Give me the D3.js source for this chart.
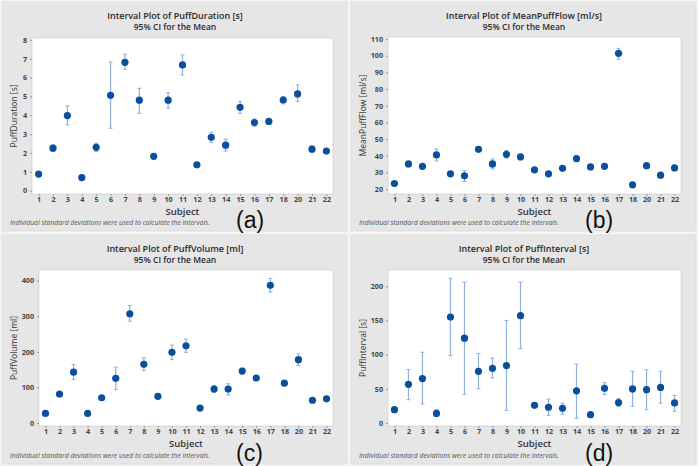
<!DOCTYPE html>
<html>
<head>
<meta charset="utf-8">
<script src="https://cdn.jsdelivr.net/npm/d3@7"></script>
<style>
  body { margin: 0; background: #f4f4f4; }
  svg { display: block; }
  text { font-family: "Open Sans", "DejaVu Sans", sans-serif; }
</style>
</head>
<body>
<svg id="chart" width="698" height="466"></svg>
<script>
// subjects (no 19 in the study)
var subjects = ['1','2','3','4','5','6','7','8','9','10','11','12','13','14','15','16','17','18','20','21','22'];

// (a) puff duration [s]
var durMean = [0.88, 2.25, 3.98, 0.69, 2.30, 5.06, 6.81, 4.80, 1.82, 4.80, 6.67, 1.37, 2.83, 2.41, 4.42, 3.61, 3.67, 4.81, 5.13, 2.20, 2.10];
var durLo   = [0.82, 2.10, 3.49, 0.60, 2.07, 3.31, 6.44, 4.10, 1.76, 4.37, 6.14, 1.31, 2.55, 2.10, 4.10, 3.43, 3.54, 4.60, 4.73, 2.07, 2.04];
var durHi   = [0.94, 2.42, 4.50, 0.78, 2.51, 6.83, 7.24, 5.43, 1.88, 5.20, 7.20, 1.43, 3.10, 2.73, 4.73, 3.80, 3.79, 4.99, 5.61, 2.37, 2.16];

// (b) mean puff flow [ml/s]
var flowMean = [23.4, 35.1, 33.7, 40.5, 29.2, 28.0, 43.9, 35.1, 40.9, 39.3, 31.6, 29.2, 32.5, 38.3, 33.3, 33.7, 101.4, 22.6, 34.1, 28.4, 32.7];
var flowLo   = [22.6, 34.0, 32.7, 36.9, 28.3, 24.6, 42.8, 32.1, 38.7, 37.7, 30.8, 28.5, 31.6, 36.7, 32.5, 32.9, 97.9, 21.9, 33.0, 27.5, 31.9];
var flowHi   = [24.2, 36.2, 34.7, 44.1, 30.1, 31.2, 45.0, 38.1, 43.3, 40.7, 32.4, 29.9, 33.4, 39.7, 34.1, 34.5, 104.4, 23.3, 35.2, 29.3, 33.5];

// (c) puff volume [ml]
var volMean = [27, 81.5, 143, 27, 71, 125.5, 307, 165, 75, 198.6, 217, 42, 95.5, 95.5, 146, 126.5, 387, 112, 178, 64, 68];
var volLo   = [24, 77, 122, 24, 66, 94, 286, 147, 71, 178, 198.6, 39, 86, 79, 139, 121, 368, 107, 161, 60, 64];
var volHi   = [30, 86, 164, 30, 76, 157, 330, 183, 79, 219, 236, 45, 105, 110.5, 154, 132, 406.5, 117, 194, 68, 72];

// (d) puff interval [s]
var intMean = [19.5, 56.6, 65, 14, 155, 124, 75.6, 80, 84, 157, 25.9, 23, 21.5, 47, 12.2, 50.7, 29.8, 49.8, 48.8, 52, 29.3];
var intLo   = [16, 34, 27.8, 9.8, 98.5, 41.5, 50, 66, 18.5, 108.8, 23, 11.2, 13, 7, 11, 41.5, 24.4, 24.4, 19.5, 29, 17];
var intHi   = [22.4, 78.5, 103.4, 19.5, 211.7, 206, 101.5, 95, 150, 206, 29, 35, 29, 86, 13.4, 59.5, 35.6, 75.6, 78, 75.6, 40.5];

var yTicksA = [0, 1, 2, 3, 4, 5, 6, 7, 8];
var yTicksB = [20, 30, 40, 50, 60, 70, 80, 90, 100, 110];
var yTicksC = [0, 100, 200, 300, 400];
var yTicksD = [0, 50, 100, 150, 200];

var footnote = 'Individual standard deviations were used to calculate the intervals.';

var svg = d3.select('#chart');

var rows = function(mean, lo, hi) {
    return subjects.map(function(s, i) {
        return { subject: s, mean: mean[i], lo: lo[i], hi: hi[i] };
    });
};

var panels = [
    { x: 2, y: 2, title: 'Interval Plot of PuffDuration [s]', ylab: 'PuffDuration [s]', tag: '(a)',
      plot: [32, 38, 333, 194], ydom: [-0.18, 8.1], ticks: yTicksA, data: rows(durMean, durLo, durHi) },
    { x: 351, y: 2, title: 'Interval Plot of MeanPuffFlow [ml/s]', ylab: 'MeanPuffFlow [ml/s]', tag: '(b)',
      plot: [388, 37, 681, 194], ydom: [17.1, 111.2], ticks: yTicksB, data: rows(flowMean, flowLo, flowHi) },
    { x: 2, y: 235, title: 'Interval Plot of PuffVolume [ml]', ylab: 'PuffVolume [ml]', tag: '(c)',
      plot: [39, 270, 333, 426], ydom: [-8.4, 430], ticks: yTicksC, data: rows(volMean, volLo, volHi) },
    { x: 351, y: 235, title: 'Interval Plot of PuffInterval [s]', ylab: 'PuffInterval [s]', tag: '(d)',
      plot: [388, 270, 681, 426], ydom: [-4.4, 223.8], ticks: yTicksD, data: rows(intMean, intLo, intHi) }
];

function drawPanel(p) {
    var L = p.plot[0], T = p.plot[1], R = p.plot[2], B = p.plot[3];
    var top = p.y;
    var mid = p.x + 173;

    // panel background
    svg.append('rect')
        .attr('x', p.x).attr('y', p.y)
        .attr('width', 345).attr('height', 229)
        .attr('fill', '#e6e6e6')
        .attr('stroke', '#d6d6d6').attr('stroke-width', 0.6);

    svg.append('rect')
        .attr('x', L).attr('y', T)
        .attr('width', R - L).attr('height', B - T)
        .attr('fill', '#ffffff')
        .attr('stroke', '#c8c8c8').attr('stroke-width', 0.6);

    var x = d3.scalePoint().domain(subjects).range([L, R]).padding(0.46);
    var y = d3.scaleLinear().domain(p.ydom).range([B, T]);
    var cx = (L + R) / 2;

    // titles
    svg.append('text')
        .attr('x', mid).attr('y', top + 17)
        .attr('text-anchor', 'middle')
        .style('font-size', '9px').style('font-weight', '600').style('fill', '#2a2a2a')
        .text(p.title);
    svg.append('text')
        .attr('x', mid).attr('y', top + 28)
        .attr('text-anchor', 'middle')
        .style('font-size', '8.5px').style('font-weight', '600').style('fill', '#2a2a2a')
        .text('95% CI for the Mean');

    // axes
    var xa = svg.append('g')
        .attr('transform', 'translate(0,' + B + ')')
        .call(d3.axisBottom(x).tickSize(2).tickPadding(1));
    var ya = svg.append('g')
        .attr('transform', 'translate(' + L + ',0)')
        .call(d3.axisLeft(y).tickValues(p.ticks).tickSize(2).tickPadding(3));
    [xa, ya].forEach(function(a) {
        a.select('.domain').remove();
        a.selectAll('line').attr('stroke', '#999');
        a.selectAll('text')
            .style('font-size', '7.2px').style('font-weight', 'bold')
            .style('fill', '#444')
            .style('font-family', '"Open Sans", "DejaVu Sans", sans-serif');
    });

    svg.append('text')
        .attr('x', cx).attr('y', B + 21)
        .attr('text-anchor', 'middle')
        .style('font-size', '9.5px').style('font-weight', '600').style('fill', '#333')
        .text('Subject');

    svg.append('text')
        .attr('transform', 'translate(' + (p.x + 15) + ',' + ((T + B) / 2) + ') rotate(-90)')
        .attr('text-anchor', 'middle')
        .style('font-size', '8.5px').style('fill', '#333')
        .text(p.ylab);

    svg.append('text')
        .attr('x', p.x + 8).attr('y', top + 223)
        .style('font-size', '6.8px').style('font-style', 'italic')
        .style('fill', '#555')
        .text(footnote);

    svg.append('text')
        .attr('x', p.x + 234).attr('y', top + 226)
        .style('font-size', '23px').style('fill', '#111')
        .style('font-family', '"Liberation Sans", "DejaVu Sans", sans-serif')
        .text(p.tag);

    // intervals
    var g = svg.append('g');
    var ci = g.selectAll('g.ci').data(p.data).enter().append('g').attr('class', 'ci');
    ci.append('line')
        .attr('x1', function(d) { return x(d.subject); })
        .attr('x2', function(d) { return x(d.subject); })
        .attr('y1', function(d) { return y(d.lo); })
        .attr('y2', function(d) { return y(d.hi); })
        .attr('stroke', '#8fb1dc').attr('stroke-width', 1.2);
    ['lo', 'hi'].forEach(function(k) {
        ci.append('line')
            .attr('x1', function(d) { return x(d.subject) - 2; })
            .attr('x2', function(d) { return x(d.subject) + 2; })
            .attr('y1', function(d) { return y(d[k]); })
            .attr('y2', function(d) { return y(d[k]); })
            .attr('stroke', '#8fb1dc').attr('stroke-width', 1);
    });
    ci.append('circle')
        .attr('cx', function(d) { return x(d.subject); })
        .attr('cy', function(d) { return y(d.mean); })
        .attr('r', 3.6)
        .attr('fill', '#0b4f9c');
}

panels.forEach(drawPanel);
</script>
</body>
</html>
